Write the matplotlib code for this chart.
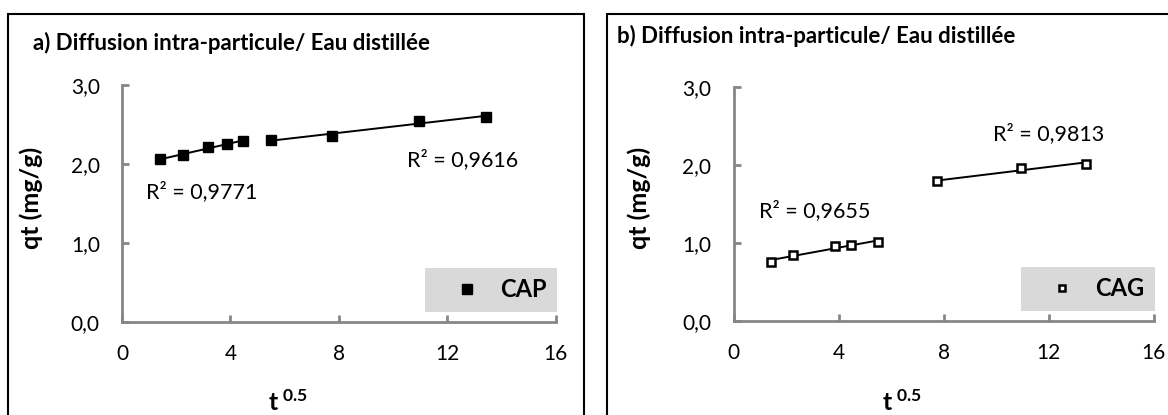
import numpy as np
import matplotlib
matplotlib.use("Agg")
import matplotlib.pyplot as plt
from matplotlib.lines import Line2D
from matplotlib.patches import Rectangle

plt.rcParams['font.family'] = ['Lato', 'DejaVu Sans']
plt.rcParams['mathtext.fontset'] = 'custom'
plt.rcParams['mathtext.rm'] = 'Lato'
plt.rcParams['mathtext.bf'] = 'Lato:bold'
plt.rcParams['mathtext.it'] = 'Lato:italic'

# ---- data ----
cap_x = [1.41, 2.24, 3.16, 3.87, 4.47, 5.48, 7.75, 10.95, 13.42]
cap_y = [2.06, 2.11, 2.22, 2.25, 2.29, 2.30, 2.36, 2.55, 2.59]
cap_segments = [(0, 5), (5, 9)]
cap_r2 = ["R² = 0,9771", "R² = 0,9616"]

cag_x = [1.41, 2.24, 3.87, 4.47, 5.48, 7.75, 10.95, 13.42]
cag_y = [0.76, 0.84, 0.96, 0.97, 1.01, 1.79, 1.96, 2.02]
cag_segments = [(0, 5), (5, 8)]
cag_r2 = ["R² = 0,9655", "R² = 0,9813"]

titles = ["a) Diffusion intra-particule/ Eau distillée",
          "b) Diffusion intra-particule/ Eau distillée"]
xticks = [0, 4, 8, 12, 16]
yticks = [0.0, 1.0, 2.0, 3.0]
ytick_labels = ["0,0", "1,0", "2,0", "3,0"]

W, H = 1168, 415
fig = plt.figure(figsize=(W / 100, H / 100), dpi=100)


def fx(px):
    return px / W


def fy(py):
    return 1 - py / H


# panel frames
fig.patches.append(Rectangle((fx(8), fy(430)), fx(584) - fx(8), fy(14) - fy(430),
                             transform=fig.transFigure, fill=False,
                             edgecolor='black', lw=1.5))
fig.patches.append(Rectangle((fx(607), fy(430)), fx(1180) - fx(607), fy(14) - fy(430),
                             transform=fig.transFigure, fill=False,
                             edgecolor='black', lw=1.5))

axis_gray = '#868686'


def make_axes(rect):
    ax = fig.add_axes(rect)
    ax.set_xlim(0, 16)
    ax.set_ylim(0, 3)
    ax.set_xticks(xticks)
    ax.set_yticks(yticks)
    ax.set_yticklabels(ytick_labels)
    for s in ['top', 'right']:
        ax.spines[s].set_visible(False)
    for s in ['left', 'bottom']:
        ax.spines[s].set_color(axis_gray)
        ax.spines[s].set_linewidth(2)
    ax.tick_params(direction='in', length=5, width=2, color=axis_gray,
                   labelsize=15, labelcolor='black', pad=16)
    ax.patch.set_visible(False)
    return ax


axL = make_axes([fx(122), fy(322), fx(555.6) - fx(122), fy(85) - fy(322)])
axR = make_axes([fx(733.7), fy(320.7), fx(1153.7) - fx(733.7), fy(87.3) - fy(320.7)])


def draw(ax, x, y, segs, filled, label):
    x = np.array(x)
    y = np.array(y)
    for a, b in segs:
        k, c = np.polyfit(x[a:b], y[a:b], 1)
        xs = np.array([x[a], x[b - 1]])
        ax.plot(xs, k * xs + c, color='black', lw=1.4, zorder=2)
    if filled:
        ax.plot(x, y, ls='none', marker='s', ms=7.5, mfc='black', mec='black',
                mew=1, zorder=3)
        h = Line2D([], [], ls='none', marker='s', ms=6.5, mfc='black', mec='black')
    else:
        ax.plot(x, y, ls='none', marker='s', ms=6.2, mfc='white', mec='black',
                mew=1.8, zorder=3)
        h = Line2D([], [], ls='none', marker='s', ms=5, mfc='white', mec='black',
                   mew=1.8)
    leg = ax.legend([h], [label], loc='lower right', bbox_to_anchor=(1.003, 0.042),
                    frameon=True, fancybox=False, facecolor='#d9d9d9',
                    edgecolor='none', framealpha=1, borderaxespad=0,
                    handlelength=2.6, handletextpad=0.1, borderpad=0.45,
                    prop={'weight': 'bold', 'size': 17})
    return leg


draw(axL, cap_x, cap_y, cap_segments, True, "CAP")
draw(axR, cag_x, cag_y, cag_segments, False, "CAG")

axL.text(2.95, 1.65, cap_r2[0], ha='center', va='center', fontsize=15.5)
axL.text(12.55, 2.06, cap_r2[1], ha='center', va='center', fontsize=15.5)
axR.text(3.08, 1.41, cag_r2[0], ha='center', va='center', fontsize=15.5)
axR.text(12.0, 2.41, cag_r2[1], ha='center', va='center', fontsize=15.5)

# titles
fig.text(fx(33), fy(43), titles[0], ha='left', va='center', fontsize=16,
         fontweight='bold')
fig.text(fx(617), fy(36), titles[1], ha='left', va='center', fontsize=16,
         fontweight='bold')

# y labels
for xpx in (31.5, 639):
    fig.text(fx(xpx), fy(198), "qt (mg/g)", rotation=90, ha='center', va='center',
             fontsize=18, fontweight='bold')

# x labels
for xpx in (288, 902):
    fig.text(fx(xpx), fy(402), r"$\mathbf{t}^{\mathbf{\ 0.5}}$", ha='center',
             va='center', fontsize=18)

fig.savefig("out.png", dpi=100)
